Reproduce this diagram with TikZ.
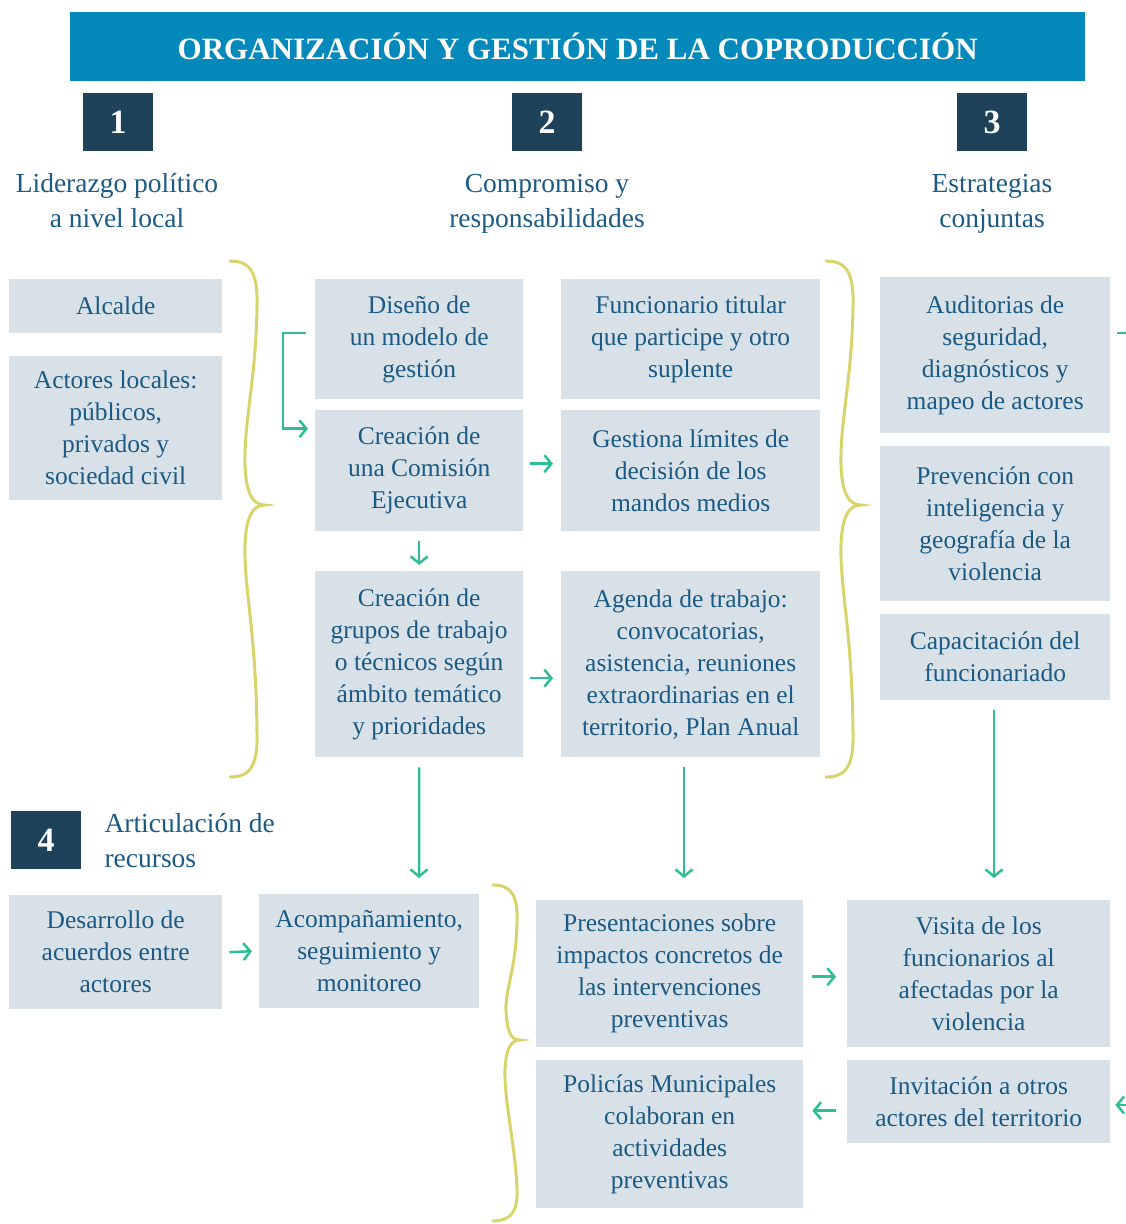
\documentclass[tikz,border=0pt]{standalone}
\usepackage{fontspec}
\setmainfont{Liberation Serif}
\usetikzlibrary{arrows.meta}
\definecolor{hdr}{HTML}{0588BA}
\definecolor{numc}{HTML}{1E4259}
\definecolor{boxc}{HTML}{D8E1E7}
\definecolor{txt}{HTML}{1B5A84}
\definecolor{grn}{HTML}{2EBD97}
\definecolor{brc}{HTML}{D8D46B}
\tikzset{
  box/.style={fill=boxc, inner sep=0pt, align=center, text=txt, anchor=north west,
    font=\fontsize{25.5}{32}\selectfont},
  numbox/.style={fill=numc, text=white, minimum width=70, minimum height=58, inner sep=0pt,
    font=\fontsize{34}{34}\selectfont\bfseries},
  head/.style={text=txt, align=center, font=\fontsize{27.5}{35}\selectfont},
  arr/.style={draw=grn, line width=2.5pt, -{Straight Barb[length=7pt,width=17pt]}},
  brace/.style={draw=brc, line width=3pt, line cap=round}
}
\begin{document}
\begin{tikzpicture}[x=1pt,y=-1pt]
\useasboundingbox (0,0) rectangle (1126,1224);
\clip (0,0) rectangle (1126,1224);
% header
\node[fill=hdr, minimum width=1015, minimum height=69, inner sep=0pt, anchor=north west,
  text=white, font=\fontsize{31}{31}\selectfont\bfseries] (title) at (70,12)
  {ORGANIZACIÓN Y GESTIÓN DE LA COPRODUCCIÓN};
% numbers
\node[numbox] (n1) at (118,122) {1};
\node[numbox] (n2) at (547,122) {2};
\node[numbox] (n3) at (992,122) {3};
\node[numbox] (n4) at (46,840) {4};
% headings
\node[head] (h1) at (117,201) {Liderazgo político\\a nivel local};
\node[head] (h2) at (547,204) {Compromiso y\\responsabilidades};
\node[head] (h3) at (992,204) {Estrategias\\conjuntas};
\node[head, align=left, anchor=west] (h4) at (101,841) {Articulación de\\recursos};
% column 1
\node[box, minimum width=213, minimum height=54] (alc) at (9,279) {Alcalde};
\node[box, minimum width=213, minimum height=144] (act) at (9,356) {Actores locales:\\públicos,\\privados y\\sociedad civil};
% column 2
\node[box, minimum width=208, minimum height=120] (dis) at (315,279) {Diseño de\\un modelo de\\gestión};
\node[box, minimum width=208, minimum height=121] (com) at (315,410) {Creación de\\una Comisión\\Ejecutiva};
\node[box, minimum width=208, minimum height=186] (gru) at (315,571) {Creación de\\grupos de trabajo\\o técnicos según\\ámbito temático\\y prioridades};
\node[box, minimum width=259, minimum height=120] (fun) at (561,279) {Funcionario titular\\que participe y otro\\suplente};
\node[box, minimum width=259, minimum height=121] (ges) at (561,410) {Gestiona límites de\\decisión de los\\mandos medios};
\node[box, minimum width=259, minimum height=186] (age) at (561,571) {Agenda de trabajo:\\convocatorias,\\asistencia, reuniones\\extraordinarias en el\\territorio, Plan Anual};
% column 3
\node[box, minimum width=230, minimum height=156] (aud) at (880,277) {Auditorias de\\seguridad,\\diagnósticos y\\mapeo de actores};
\node[box, minimum width=230, minimum height=155] (pre) at (880,446) {Prevención con\\inteligencia y\\geografía de la\\violencia};
\node[box, minimum width=230, minimum height=86] (cap) at (880,614) {Capacitación del\\funcionariado};
% bottom row
\node[box, minimum width=213, minimum height=114] (des) at (9,895) {Desarrollo de\\acuerdos entre\\actores};
\node[box, minimum width=220, minimum height=114] (aco) at (259,894) {Acompañamiento,\\seguimiento y\\monitoreo};
\node[box, minimum width=267, minimum height=147] (prs) at (536,900) {Presentaciones sobre\\impactos concretos de\\las intervenciones\\preventivas};
\node[box, minimum width=263, minimum height=147] (vis) at (847,900) {Visita de los\\funcionarios al\\afectadas por la\\violencia};
\node[box, minimum width=267, minimum height=148] (pol) at (536,1060) {Policías Municipales\\colaboran en\\actividades\\preventivas};
\node[box, minimum width=263, minimum height=83] (inv) at (847,1060) {Invitación a otros\\actores del territorio};
% source (cropped in the reference)
\node[anchor=base west, text=black!75, font=\fontsize{22}{22}\selectfont] (src) at (938,1240) {Fuente: Elaboración propia};
% braces
\draw[brace] (230,261) .. controls (250,261) and (258,272) .. (257,306)
  .. controls (256,380) and (244,420) .. (245,465)
  .. controls (246,492) and (252,505) .. (265,505)
  .. controls (252,505) and (246,518) .. (245,545)
  .. controls (244,590) and (256,630) .. (257,732)
  .. controls (258,766) and (250,777) .. (230,777);
\draw[brace] (826,261) .. controls (846,261) and (854,272) .. (853,306)
  .. controls (852,380) and (840,420) .. (841,465)
  .. controls (842,492) and (848,505) .. (861,505)
  .. controls (848,505) and (842,518) .. (841,545)
  .. controls (840,590) and (852,630) .. (853,732)
  .. controls (854,766) and (846,777) .. (826,777);
\draw[brace] (493,885) .. controls (511,885) and (518,895) .. (517,922)
  .. controls (516,970) and (505,990) .. (506,1010)
  .. controls (507,1030) and (510,1040) .. (520,1040)
  .. controls (510,1040) and (506,1050) .. (505,1070)
  .. controls (504,1100) and (516,1150) .. (517,1190)
  .. controls (518,1212) and (510,1221) .. (493,1221);
% arrows
\draw[arr] ([xshift=-9pt,yshift=6pt]dis.west) -- ++(-23,0) |- ([xshift=-7pt,yshift=42pt]com.west);
\draw[arr] ([xshift=7pt,yshift=7pt]com.east) -- ([xshift=-8pt,yshift=7pt]ges.west);
\draw[arr] ([yshift=-10pt]com.south) -- ([yshift=6pt]gru.north);
\draw[arr] ([xshift=7pt,yshift=-14pt]gru.east) -- ([xshift=-8pt,yshift=-14pt]age.west);
\coordinate (d1) at (419,878);
\coordinate (d2) at (684,878);
\coordinate (d3) at (994,878);
\draw[arr] ([yshift=-10pt]gru.south) -- (d1);
\draw[arr] ([yshift=-10pt]d2 |- age.south) -- (d2);
\draw[arr] ([yshift=-10pt]d3 |- cap.south) -- (d3);
\coordinate (r1) at (1145,333);
\draw[draw=grn, line width=2.5pt] ([xshift=7pt]aud.east |- r1) -- (r1);
\draw[arr] ([xshift=7pt]des.east) -- ([xshift=-7pt]aco.west);
\draw[arr] ([xshift=9pt,yshift=-3pt]prs.east) -- ([xshift=-11pt,yshift=-3pt]vis.west);
\draw[arr] ([xshift=-11pt,yshift=-9pt]inv.west) -- ([xshift=9pt,yshift=-9pt]inv.west -| pol.east);
\coordinate (r2) at (1145,1105);
\draw[arr] (r2) -- ([xshift=5pt]inv.east |- r2);
\end{tikzpicture}
\end{document}
